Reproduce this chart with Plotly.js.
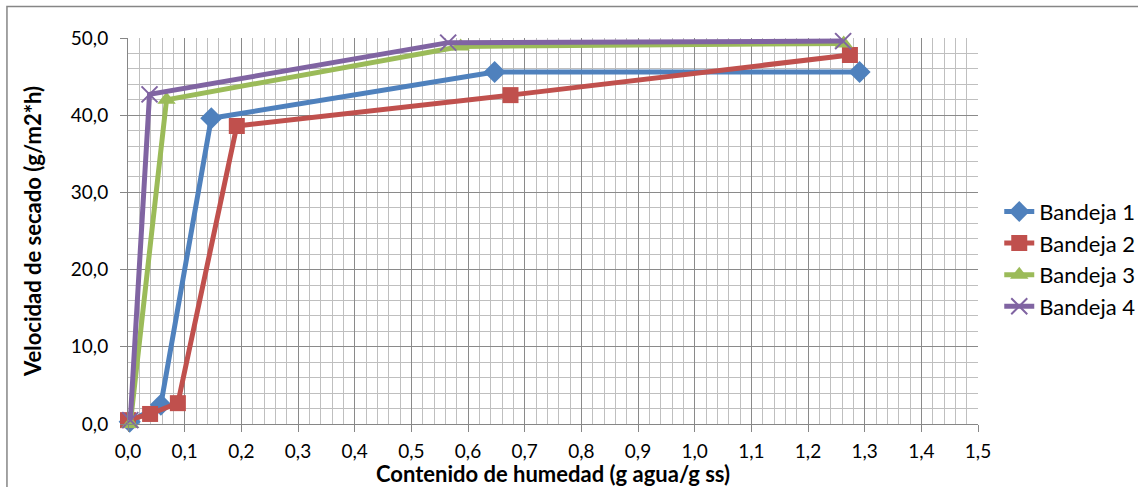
<!DOCTYPE html>
<html><head><meta charset="utf-8">
<script src="https://cdn.plot.ly/plotly-3.0.1.min.js"></script>
<style>html,body{margin:0;padding:0;background:#fff;}#chart{width:1138px;height:487px;}</style>
</head><body><div id="chart"></div>
<script>
const seriesNames = ["Bandeja 1", "Bandeja 2", "Bandeja 3", "Bandeja 4"];
const x1 = [0.003, 0.058, 0.147, 0.647, 1.291];
const y1 = [0.3, 2.5, 39.6, 45.6, 45.6];
const x2 = [0.0, 0.039, 0.088, 0.192, 0.675, 1.274];
const y2 = [0.5, 1.3, 2.7, 38.6, 42.6, 47.8];
const x3 = [0.004, 0.068, 0.587, 1.263];
const y3 = [0.0, 42.0, 48.9, 49.3];
const x4 = [0.004, 0.038, 0.565, 1.262];
const y4 = [0.5, 42.7, 49.4, 49.6];
const colors = ["#4F81BD", "#C0504D", "#9BBB59", "#8064A2"];
const symbols = ["diamond", "square", "triangle-up", "x-thin-open"];
const sizes = [17, 16, 16, 16];
const xs = [x1, x2, x3, x4], ys = [y1, y2, y3, y4];
const traces = xs.map((x, i) => ({
  x: x, y: ys[i], name: seriesNames[i], type: "scatter", mode: "lines+markers",
  cliponaxis: false,
  line: {color: colors[i], width: 5},
  marker: {symbol: symbols[i], color: colors[i], size: sizes[i],
           line: {color: colors[i], width: i === 3 ? 2 : 0}}
}));
const font = "Lato, 'Open Sans', sans-serif";
const layout = {
  width: 1138, height: 487,
  margin: {l: 128, r: 160, t: 38, b: 63, autoexpand: false},
  paper_bgcolor: "#fff", plot_bgcolor: "#fff",
  separators: ",.",
  font: {family: font, size: 20, color: "#000"},
  showlegend: true,
  legend: {x: 1.025, xanchor: "left", y: 0.427, yanchor: "middle", font: {size: 22}, tracegroupgap: 0},
  xaxis: {
    range: [0, 1.5], dtick: 0.1, tickformat: ".1f",
    showline: true, linecolor: "#868686", linewidth: 1,
    ticks: "outside", ticklen: 7, tickcolor: "#868686", ticklabelstandoff: 3,
    tickfont: {size: 19},
    showgrid: true, gridcolor: "#8a8a8a", gridwidth: 1,
    minor: {dtick: 0.02, showgrid: true, gridcolor: "#bfbfbf", gridwidth: 1},
    zeroline: false,
    title: {text: "<b>Contenido de humedad (g agua/g ss)</b>", font: {size: 22}, standoff: 3}
  },
  yaxis: {
    range: [0, 50], dtick: 10, tickformat: ".1f",
    showline: true, linecolor: "#868686", linewidth: 1,
    ticks: "outside", ticklen: 7, tickcolor: "#868686", ticklabelstandoff: 8,
    tickfont: {size: 19},
    showgrid: true, gridcolor: "#8a8a8a", gridwidth: 1,
    minor: {dtick: 2, showgrid: true, gridcolor: "#bfbfbf", gridwidth: 1},
    zeroline: false,
    title: {text: "<b>Velocidad de secado (g/m2*h)</b>", font: {size: 22}, standoff: 23}
  },
  shapes: [{type: "rect", xref: "paper", yref: "paper", x0: -0.1424, x1: 1.2, y0: -0.2, y1: 1.0816,
            line: {color: "#868686", width: 1.5}, fillcolor: "rgba(0,0,0,0)", layer: "below"}]
};
Plotly.newPlot("chart", traces, layout, {displayModeBar: false, staticPlot: true});
</script></body></html>
